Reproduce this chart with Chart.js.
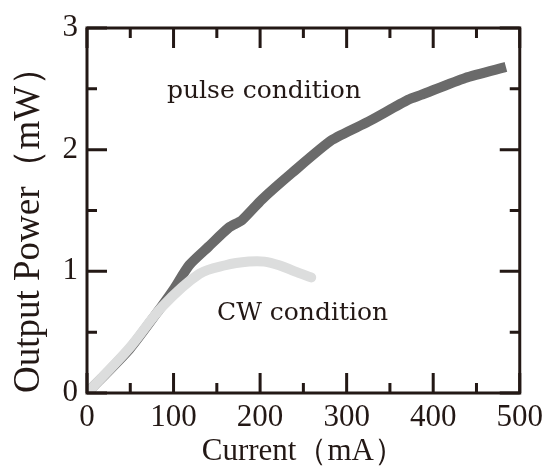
<!DOCTYPE html>
<html>
<head>
<meta charset="utf-8">
<script src="https://cdn.jsdelivr.net/npm/chart.js@4"></script>
<style>
  html, body { margin: 0; padding: 0; background: #fff; }
  #wrap { width: 549px; height: 475px; }
</style>
</head>
<body>
<div id="wrap"><canvas id="grLI"></canvas></div>
<script>
// datos
const pulseCurrent = [0, 49, 87, 100, 118, 140, 164, 179, 202, 237, 283, 325, 371, 386, 437, 484];
const pulsePower   = [0, 0.36, 0.72, 0.85, 1.05, 1.2, 1.36, 1.42, 1.59, 1.81, 2.08, 2.23, 2.41, 2.45, 2.59, 2.68];

const cwCurrent = [0, 49, 87, 130, 160, 187, 205, 222, 240, 259];
const cwPower   = [0, 0.37, 0.71, 0.98, 1.05, 1.08, 1.08, 1.05, 1.0, 0.95];

const xTicks = [0, 100, 200, 300, 400, 500];
const xMinor = [50, 150, 250, 350, 450];
const yTicks = [0, 1, 2, 3];
const yMinor = [0.5, 1.5, 2.5];

const ink = '#231815';
const fuente = 'Liberation Serif';

function toPts(xs, ys){
    return xs.map((x, i) => ({ x: x, y: ys[i] }));
}

/* marco y ticks hacia adentro */
const marcoPlugin = {
    id: 'marcoPlugin',
    afterDatasetsDraw(chart) {
        const { ctx, chartArea: { left, right, top, bottom }, scales: { x, y } } = chart;
        ctx.save();
        ctx.strokeStyle = ink;
        ctx.lineWidth = 3;
        ctx.lineCap = 'butt';
        ctx.beginPath();
        const tick = (v, len, horiz) => {
            if (horiz) {
                const px = x.getPixelForValue(v);
                ctx.moveTo(px, bottom); ctx.lineTo(px, bottom - len);
                ctx.moveTo(px, top); ctx.lineTo(px, top + len);
            } else {
                const py = y.getPixelForValue(v);
                ctx.moveTo(left, py); ctx.lineTo(left + len, py);
                ctx.moveTo(right, py); ctx.lineTo(right - len, py);
            }
        };
        xTicks.forEach(v => tick(v, 20, true));
        xMinor.forEach(v => tick(v, 10, true));
        yTicks.forEach(v => tick(v, 20, false));
        yMinor.forEach(v => tick(v, 10, false));
        ctx.stroke();
        ctx.lineJoin = 'miter';
        ctx.strokeRect(left, top, right - left, bottom - top);

        // etiquetas
        ctx.fillStyle = ink;
        ctx.font = '25px "DejaVu Serif"';
        ctx.textBaseline = 'alphabetic';
        ctx.textAlign = 'left';
        ctx.fillText('pulse condition', 167, 98);
        ctx.fillText('CW condition', 217, 320);
        ctx.restore();
    }
};

const chart = new Chart(document.getElementById('grLI'), {
    type: 'line',
    data: {
        datasets: [{
            label: 'CW condition',
            data: toPts(cwCurrent, cwPower),
            borderColor: '#dcdddd',
            borderWidth: 10,
            borderCapStyle: 'round',
            borderJoinStyle: 'round',
            pointRadius: 0,
            tension: 0.35,
            order: 1
        }, {
            label: 'pulse condition',
            data: toPts(pulseCurrent, pulsePower),
            borderColor: '#6a6a6a',
            borderWidth: 10,
            borderCapStyle: 'butt',
            borderJoinStyle: 'round',
            pointRadius: 0,
            tension: 0.2,
            order: 2
        }]
    },
    options: {
        responsive: true,
        maintainAspectRatio: false,
        animation: false,
        layout: { padding: { top: 28, right: 27, left: 0, bottom: 0 } },
        plugins: {
            legend: { display: false },
            tooltip: { enabled: false }
        },
        scales: {
            x: {
                type: 'linear',
                min: 0,
                max: 500,
                afterBuildTicks: s => { s.ticks = xTicks.map(v => ({ value: v })); },
                afterFit: s => { s.height = 82; },
                grid: { display: false, drawTicks: false },
                border: { display: false },
                ticks: {
                    color: ink,
                    padding: 6,
                    maxRotation: 0,
                    font: { family: fuente, size: 31 }
                },
                title: {
                    display: true,
                    text: 'Current（mA）',
                    color: ink,
                    padding: { top: 0, bottom: 5 },
                    font: { family: fuente, size: 31, lineHeight: 1.2 }
                }
            },
            y: {
                type: 'linear',
                min: 0,
                max: 3,
                afterBuildTicks: s => { s.ticks = yTicks.map(v => ({ value: v })); },
                afterFit: s => { s.width = 87; },
                grid: { display: false, drawTicks: false },
                border: { display: false },
                ticks: {
                    color: ink,
                    padding: 9,
                    font: { family: fuente, size: 31 }
                },
                title: {
                    display: true,
                    text: 'Output Power（mW）',
                    color: ink,
                    align: 'start',
                    padding: { top: 7, bottom: 0 },
                    font: { family: fuente, size: 37, lineHeight: 1.2 }
                }
            }
        }
    },
    plugins: [marcoPlugin]
});
</script>
</body>
</html>
